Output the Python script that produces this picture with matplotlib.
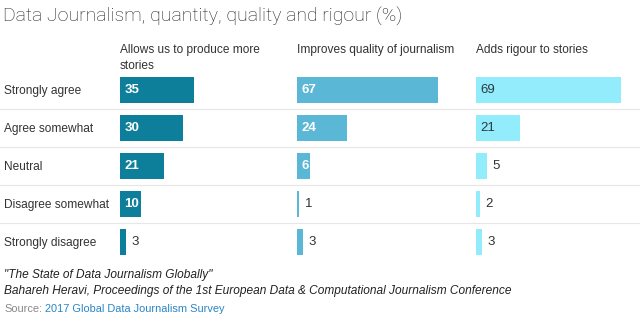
import matplotlib
matplotlib.use("Agg")
import matplotlib.pyplot as plt
from matplotlib.lines import Line2D

rows = ["Strongly agree", "Agree somewhat", "Neutral", "Disagree somewhat", "Strongly disagree"]
headers = ["Allows us to produce more\nstories", "Improves quality of journalism", "Adds rigour to stories"]
more_stories = [35, 30, 21, 10, 3]
quality = [67, 24, 6, 1, 3]
rigour = [69, 21, 5, 2, 3]

series = [more_stories, quality, rigour]
colors = ["#0e7f9a", "#5ab7d5", "#93ecfb"]
inside_colors = ["white", "white", "#2a3a40"]
inside_weight = ["bold", "bold", "normal"]

W, H = 640, 321
plt.rcParams["font.family"] = ["Liberation Sans", "DejaVu Sans"]
fig = plt.figure(figsize=(W / 100, H / 100), dpi=100)


def fx(x):
    return x / W


def fy(y):
    return 1 - y / H


# title
fig.text(fx(3), fy(16), "Data Journalism, quantity, quality and rigour (%)",
         fontsize=14, family=["Roboto", "DejaVu Sans"], fontweight="light",
         color="#222222", va="center", ha="left")

col_x = [120, 297, 476]
px_per_unit = 2.1
col_w = 165
top, row_h = 71, 38
n = len(rows)

# separator lines
for i in range(1, n):
    y = top + i * row_h - 0.5
    fig.add_artist(Line2D([0, 1], [fy(y), fy(y)], color="#e6e6e6", lw=0.8))

for j, vals in enumerate(series):
    ax = fig.add_axes([fx(col_x[j]), fy(top + n * row_h), col_w / W, n * row_h / H])
    ax.set_xlim(0, col_w / px_per_unit)
    ax.set_ylim(n - 0.5, -0.5)
    ax.barh(range(n), vals, height=0.71, color=colors[j])
    ax.axis("off")
    for i, v in enumerate(vals):
        if v >= 6:
            ax.text(2, i, str(v), color=inside_colors[j], fontweight=inside_weight[j],
                    fontsize=9.5, va="center", ha="left")
        else:
            ax.text(v + 2.6, i, str(v), color="#333333", fontsize=9.5, va="center", ha="left")
    fig.text(fx(col_x[j]), fy(44), headers[j], fontsize=8.6, color="#333333",
             va="top", ha="left", linespacing=1.45)

for i, r in enumerate(rows):
    fig.text(fx(4), fy(top + i * row_h + row_h / 2 + 1), r, fontsize=8.6,
             color="#333333", va="center", ha="left")

# footnote
fig.text(fx(4), fy(275), "\"The State of Data Journalism Globally\"", fontsize=8.6,
         style="italic", color="#222222", va="center")
fig.text(fx(4), fy(291), "Bahareh Heravi, Proceedings of the 1st European Data & Computational Journalism Conference",
         fontsize=8.6, style="italic", color="#222222", va="center")
fig.text(fx(4), fy(309), "Source:", fontsize=7.9, color="#888888", va="center")
fig.text(fx(45), fy(309), "2017 Global Data Journalism Survey", fontsize=7.9,
         color="#2a86c4", va="center")

fig.savefig("out.png", dpi=100)
